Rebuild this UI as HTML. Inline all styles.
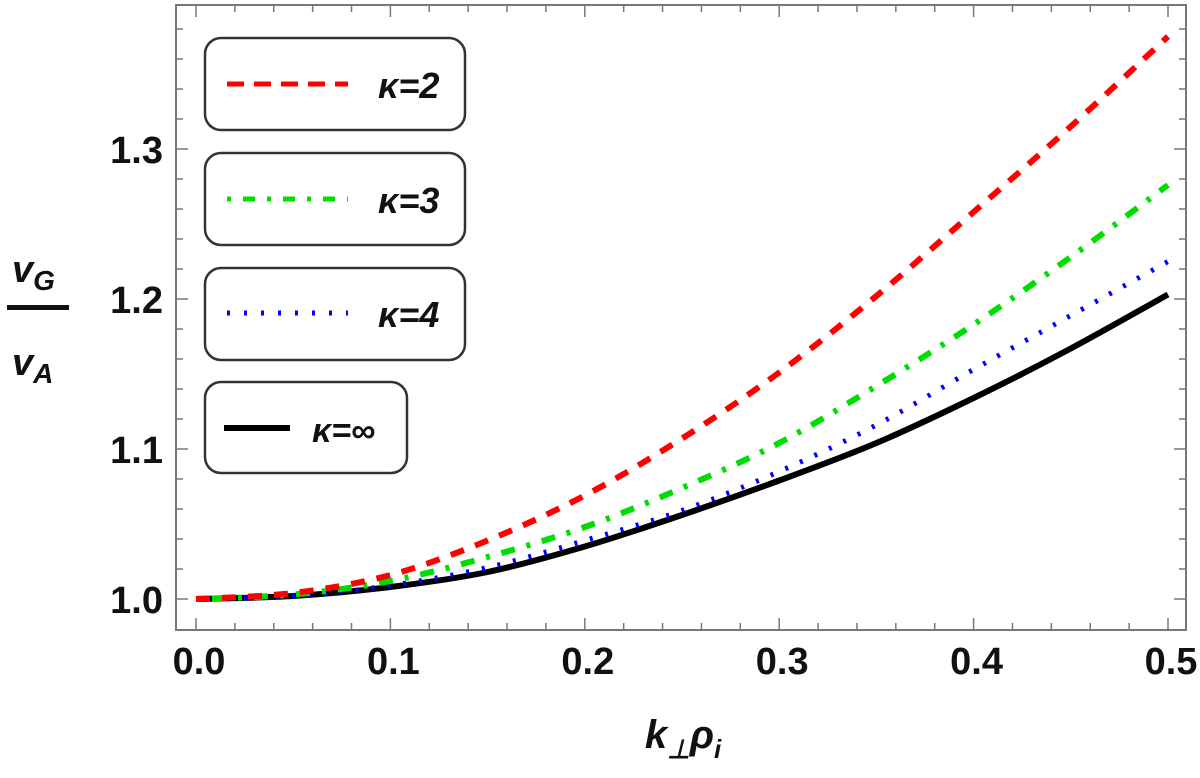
<!DOCTYPE html>
<html><head><meta charset="utf-8"><style>
html,body{margin:0;padding:0;background:#fff;}
svg text{font-family:"Liberation Sans",sans-serif;font-weight:bold;fill:#111;}
</style></head><body>
<svg id="chart" width="1200" height="773" viewBox="0 0 1200 773" xmlns="http://www.w3.org/2000/svg">
<rect x="176" y="5" width="1010" height="625" fill="none" stroke="#777" stroke-width="2"/>
<g id="ticks"></g>
<g id="series"></g>
<text x="12" y="282" font-size="38" font-style="italic">v<tspan font-size="28" dy="8">G</tspan></text>
<rect x="7" y="305" width="62" height="5" fill="#111"/>
<text x="12" y="375" font-size="38" font-style="italic">v<tspan font-size="28" dy="8">A</tspan></text>
<text x="683" y="748" font-size="40" font-style="italic" text-anchor="middle">k<tspan font-size="26" dy="10">⊥</tspan><tspan dy="-10">ρ</tspan><tspan font-size="26" dy="10">i</tspan></text>
<g>
<g>
<rect x="205" y="38" width="260" height="92" rx="16" fill="#fff" stroke="#333" stroke-width="2.5"/>
<line x1="227" y1="84" x2="348" y2="84" stroke="#f00" stroke-width="5" stroke-dasharray="17,10"/>
<text x="378" y="98" font-size="36" font-style="italic">κ=2</text></g>
<g>
<rect x="205" y="153" width="260" height="92" rx="16" fill="#fff" stroke="#333" stroke-width="2.5"/>
<line x1="227" y1="199" x2="348" y2="199" stroke="#0d0" stroke-width="5" stroke-dasharray="4,12,12,12"/>
<text x="378" y="213" font-size="36" font-style="italic">κ=3</text></g>
<g>
<rect x="205" y="268" width="260" height="92" rx="16" fill="#fff" stroke="#333" stroke-width="2.5"/>
<line x1="227" y1="313" x2="348" y2="313" stroke="#00f" stroke-width="5" stroke-dasharray="3,14"/>
<text x="378" y="327" font-size="36" font-style="italic">κ=4</text></g>
<g>
<rect x="205" y="382" width="202" height="91" rx="16" fill="#fff" stroke="#333" stroke-width="2.5"/>
<line x1="224" y1="428" x2="290" y2="428" stroke="#000" stroke-width="6"/>
<text x="312" y="442" font-size="34" font-style="italic">κ=∞</text></g>
</g>
</svg>
<script>
const xValues=[0,0.05,0.1,0.15,0.2,0.25,0.3,0.35,0.4,0.45,0.5];
const kappa2=[1,1.004,1.016,1.039,1.069,1.107,1.151,1.202,1.258,1.315,1.375];
const kappa3=[1,1.003,1.012,1.028,1.048,1.074,1.104,1.142,1.183,1.228,1.276];
const kappa4=[1,1.002,1.009,1.021,1.039,1.059,1.085,1.116,1.153,1.189,1.225];
const kappaInf=[1,1.002,1.008,1.018,1.035,1.056,1.079,1.104,1.134,1.167,1.203];
const xTickLabels=["0.0","0.1","0.2","0.3","0.4","0.5"];
const yTickLabels=["1.0","1.1","1.2","1.3"];
const NS="http://www.w3.org/2000/svg";
function sx(v){return 196+v*(1168-196)/0.5;}
function sy(v){return 599-(v-1)*1500;}
const ticks=document.getElementById('ticks');
function mk(tag,attrs,parent){const e=document.createElementNS(NS,tag);for(const k in attrs)e.setAttribute(k,attrs[k]);parent.appendChild(e);return e;}
for(let i=0;i<=26;i++){const v=i*0.02;const x=sx(v);if(x>1185)break;const major=i%5===0;const L=major?12:7;
 const t1=mk('line',{x1:x,y1:630,x2:x,y2:630-L,stroke:'#777','stroke-width':1.5},ticks);
 
 
 const t2=mk('line',{x1:x,y1:5,x2:x,y2:5+L,stroke:'#777','stroke-width':1.5},ticks);
 
 }
xTickLabels.forEach(s=>{const t=mk('text',{x:sx(parseFloat(s))+3,y:674,'font-size':38,'text-anchor':'middle'},ticks);t.textContent=s;
 
 });
for(let i=-1;i<=21;i++){const v=1+i*0.02;const y=sy(v);if(y>628||y<7)continue;const major=i%5===0;const L=major?12:7;
 const t1=mk('line',{x1:176,y1:y,x2:176+L,y2:y,stroke:'#777','stroke-width':1.5},ticks);
 
 
 const t2=mk('line',{x1:1186,y1:y,x2:1186-L,y2:y,stroke:'#777','stroke-width':1.5},ticks);
 
 }
yTickLabels.forEach(s=>{const t=mk('text',{x:163,y:sy(parseFloat(s))+14,'font-size':38,'text-anchor':'end'},ticks);t.textContent=s;
 
 });
function pathFor(vals){const p=xValues.map((x,i)=>[sx(x),sy(vals[i])]);let d='M'+p[0][0]+','+p[0][1];
 for(let i=0;i<p.length-1;i++){const p0=p[Math.max(0,i-1)],p1=p[i],p2=p[i+1],p3=p[Math.min(p.length-1,i+2)];
  d+=' C'+(p1[0]+(p2[0]-p0[0])/6)+','+(p1[1]+(p2[1]-p0[1])/6)+' '+(p2[0]-(p3[0]-p1[0])/6)+','+(p2[1]-(p3[1]-p1[1])/6)+' '+p2[0]+','+p2[1];}
 return d;}
const series=document.getElementById('series');
const defs=[[kappaInf,'#000',6,'none','series-kappa-inf'],[kappa4,'#00f',5,'3,13','series-kappa-4'],[kappa3,'#0d0',6,'4,12,14,12','series-kappa-3'],[kappa2,'#f00',6,'14,12','series-kappa-2']];
defs.forEach(d=>{const e=mk('path',{d:pathFor(d[0]),fill:'none',stroke:d[1],'stroke-width':d[2],'stroke-dasharray':d[3]},series);
 
 });
</script>
</body></html>
